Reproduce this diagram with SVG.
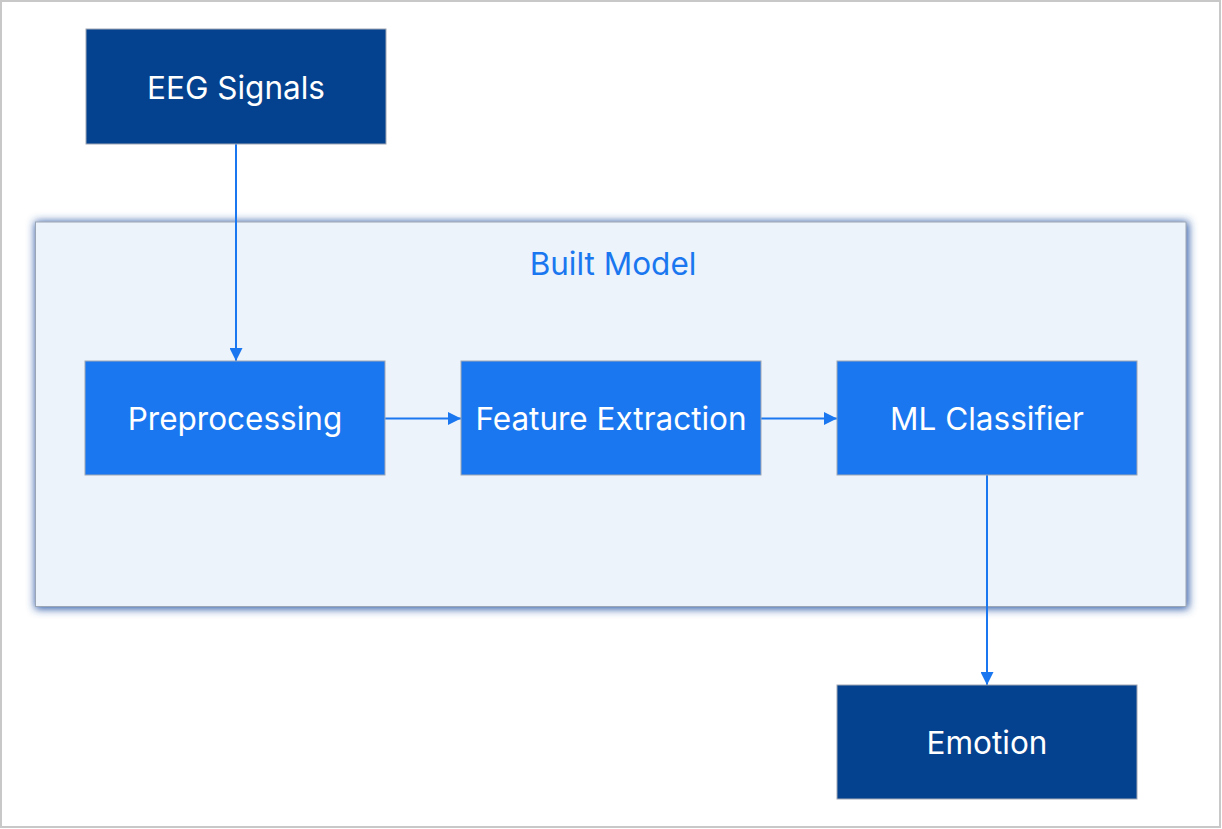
<svg xmlns="http://www.w3.org/2000/svg" width="1222" height="829" viewBox="0 0 1222 829">
<defs>
<style>
.dark{fill:#04428f;stroke:#a0a8b4;stroke-width:1}
.light{fill:#1b77ef;stroke:#a0a8b4;stroke-width:1}
.lbl{font-family:Inter,"Liberation Sans",sans-serif;font-size:31.5px;fill:#ffffff;text-anchor:middle;dominant-baseline:central}
.conn{stroke:#1b77ef;stroke-width:2;fill:none}
</style>
<marker id="ah" viewBox="0 0 13 13" refX="13" refY="6.5" markerWidth="13" markerHeight="13" markerUnits="userSpaceOnUse" orient="auto">
<path d="M0,0 L13,6.5 L0,13 Z" fill="#1b77ef"/>
</marker>
<filter id="glow" x="-5%" y="-10%" width="110%" height="120%">
<feMorphology in="SourceAlpha" operator="dilate" radius="1" result="d"/>
<feGaussianBlur in="d" stdDeviation="4" result="b"/>
<feOffset in="b" dx="1" dy="1" result="o"/>
<feFlood flood-color="#2a58a6" flood-opacity="1"/>
<feComposite operator="in" in2="o" result="s"/>
<feMerge><feMergeNode in="s"/><feMergeNode in="SourceGraphic"/></feMerge>
</filter>
</defs>
<rect x="1" y="1" width="1219" height="826" fill="#ffffff" stroke="#c8c8c8" stroke-width="2"/>
<g id="built-model">
<rect x="35.5" y="222" width="1150.5" height="384.5" fill="#ecf3fb" stroke="#9aa6b6" stroke-width="1" filter="url(#glow)"/>
<text x="613" y="263" font-family="Inter,'Liberation Sans',sans-serif" font-size="31.5" fill="#1b77ef" text-anchor="middle" dominant-baseline="central">Built Model</text>
</g>
<g id="connectors">
<line class="conn" x1="236" y1="144" x2="236" y2="361" marker-end="url(#ah)"/>
<line class="conn" x1="385" y1="418.5" x2="461" y2="418.5" marker-end="url(#ah)"/>
<line class="conn" x1="761" y1="418.5" x2="837" y2="418.5" marker-end="url(#ah)"/>
<line class="conn" x1="987" y1="475" x2="987" y2="685" marker-end="url(#ah)"/>
</g>
<g id="eeg-signals">
<rect class="dark" x="86" y="29" width="300" height="115"/>
<text class="lbl" x="236" y="87">EEG Signals</text>
</g>
<g id="preprocessing">
<rect class="light" x="85" y="361" width="300" height="114"/>
<text class="lbl" x="235" y="418">Preprocessing</text>
</g>
<g id="feature-extraction">
<rect class="light" x="461" y="361" width="300" height="114"/>
<text class="lbl" x="611" y="418">Feature Extraction</text>
</g>
<g id="ml-classifier">
<rect class="light" x="837" y="361" width="300" height="114"/>
<text class="lbl" x="987" y="418">ML Classifier</text>
</g>
<g id="emotion">
<rect class="dark" x="837" y="685" width="300" height="114"/>
<text class="lbl" x="987" y="742">Emotion</text>
</g>
</svg>
